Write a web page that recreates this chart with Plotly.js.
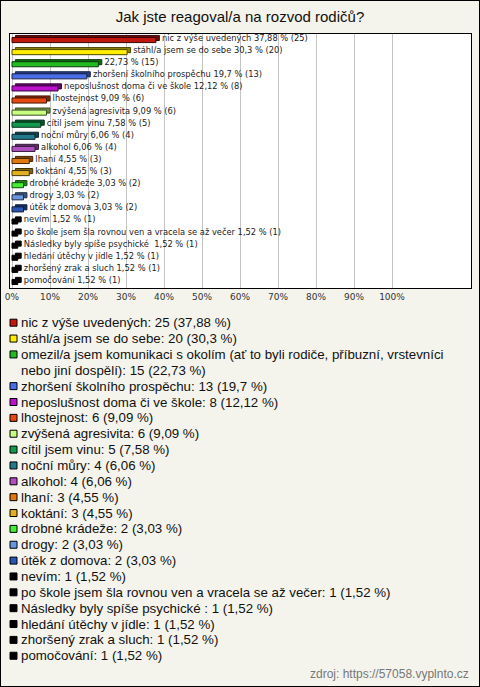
<!DOCTYPE html>
<html>
<head>
<meta charset="utf-8">
<script src="https://cdn.plot.ly/plotly-3.0.1.min.js"></script>
<style>
html,body{margin:0;padding:0;background:#f4f4ec;}
#wrap{position:relative;width:480px;height:687px;}
#chart{width:480px;height:687px;}
#frame{position:absolute;left:0;top:0;width:480px;height:687px;box-sizing:border-box;border:1px solid #000;pointer-events:none;}
</style>
</head>
<body>
<div id="wrap"><div id="chart"></div><div id="frame"></div></div>
<script>
// ---- data ----
const names = [
  "nic z výše uvedených",
  "stáhl/a jsem se do sebe",
  "omezil/a jsem komunikaci s okolím (ať to byli rodiče, příbuzní, vrstevníci nebo jiní dospělí)",
  "zhoršení školního prospěchu",
  "neposlušnost doma či ve škole",
  "lhostejnost",
  "zvýšená agresivita",
  "cítil jsem vinu",
  "noční můry",
  "alkohol",
  "lhaní",
  "koktání",
  "drobné krádeže",
  "drogy",
  "útěk z domova",
  "nevím",
  "po škole jsem šla rovnou ven a vracela se až večer",
  "Následky byly spíše psychické ",
  "hledání útěchy v jídle",
  "zhoršený zrak a sluch",
  "pomočování"
];
const counts = [25, 20, 15, 13, 8, 6, 6, 5, 4, 4, 3, 3, 2, 2, 2, 1, 1, 1, 1, 1, 1];
const percents = [37.88, 30.3, 22.73, 19.7, 12.12, 9.09, 9.09, 7.58, 6.06, 6.06, 4.55, 4.55, 3.03, 3.03, 3.03, 1.52, 1.52, 1.52, 1.52, 1.52, 1.52];
// bar labels inside the chart (long name omitted in the original)
const showNameOnBar = [true, true, false, true, true, true, true, true, true, true, true, true, true, true, true, true, true, true, true, true, true];
const colors = ["#c0180c", "#ffee00", "#22bb22", "#4a6ee8", "#bb11cc", "#e64a10", "#c8ff80", "#119a50", "#227a8a", "#b050c0", "#e07a10", "#e0b020", "#44ee33", "#6a96e0", "#2a55b0", "#000000", "#000000", "#000000", "#000000", "#000000", "#000000"];
const tickVals = [0, 10, 20, 30, 40, 50, 60, 70, 80, 90, 100];
const tickText = ["0%", "10%", "20%", "30%", "40%", "50%", "60%", "70%", "80%", "90%", "100%"];
const titleText = "Jak jste reagoval/a na rozvod rodičů?";
const sourceText = "zdroj: https://57058.vyplnto.cz";

// ---- helpers ----
const fmt = v => String(v).replace('.', ',');
const barText = names.map((n, i) => (showNameOnBar[i] ? n + ' ' : '') + fmt(percents[i]) + ' % (' + counts[i] + ')');
const legendText = names.map((n, i) => n + ': ' + counts[i] + ' (' + fmt(percents[i]) + ' %)');
function shade(hex, f) {
  const n = parseInt(hex.slice(1), 16);
  const r = Math.round(((n >> 16) & 255) * f), g = Math.round(((n >> 8) & 255) * f), b = Math.round((n & 255) * f);
  return 'rgb(' + r + ',' + g + ',' + b + ')';
}
const darkColors = colors.map(c => shade(c, 0.55));
const edgeColors = colors.map(c => shade(c, 0.3));

// layout geometry (pixels)
const W = 480, H = 687;
const L = 10, R = 471, T = 34, B = 288;
const pw = R - L, ph = B - T;
const px2x = x => (x - L) / pw;
const px2y = y => (B - y) / ph;

function wrap(s, maxLen) {
  const words = s.split(' ');
  const lines = [];
  let cur = '';
  words.forEach(w => {
    const cand = cur ? cur + ' ' + w : w;
    if (cand.length > maxLen && cur) { lines.push(cur); cur = w; } else { cur = cand; }
  });
  if (cur) lines.push(cur);
  return lines;
}

const annotations = [];
const shapes = [];
let yLine = 322.7;
const lineStep = 15.86;
legendText.forEach((t, i) => {
  const lines = wrap(t, 76);
  shapes.push({
    type: 'rect', xref: 'paper', yref: 'paper',
    x0: px2x(10), x1: px2x(17), y0: px2y(yLine + 3.5), y1: px2y(yLine - 3.5),
    fillcolor: colors[i], line: {color: '#000', width: 1}, layer: 'above'
  });
  lines.forEach(line => {
    annotations.push({
      xref: 'paper', yref: 'paper', x: px2x(19), y: px2y(yLine),
      xanchor: 'left', yanchor: 'middle', showarrow: false, align: 'left',
      text: line, font: {family: 'Liberation Sans, Arial, sans-serif', size: 13.3, color: '#111'}
    });
    yLine += lineStep;
  });
});
annotations.push({
  xref: 'paper', yref: 'paper', x: px2x(471), y: px2y(674),
  xanchor: 'right', yanchor: 'middle', showarrow: false,
  text: sourceText, font: {family: 'Liberation Sans, Arial, sans-serif', size: 12, color: '#777'}
});

// pseudo-3D depth: back face shifted right/up
const depthX = 0.9;      // in % units (~3.4 px)
const barW = 0.42;
const depthY = 0.17;     // in category units (~2 px)
const backTrace = {
  type: 'bar', orientation: 'h',
  y: names, x: percents, base: depthX,
  width: barW, offset: -barW / 2 - depthY,
  marker: {color: darkColors, line: {color: edgeColors, width: 1}},
  text: barText, texttemplate: '\u00a0%{text}',
  textposition: 'outside', cliponaxis: false, constraintext: 'none',
  outsidetextfont: {family: 'DejaVu Sans, Verdana, sans-serif', size: 8.3, color: '#222'},
  hoverinfo: 'none'
};
const frontTrace = {
  type: 'bar', orientation: 'h',
  y: names, x: percents,
  width: barW, offset: -barW / 2,
  marker: {color: colors, line: {color: edgeColors, width: 1}},
  textposition: 'none',
  hoverinfo: 'none'
};

const x0 = 0 - (12 - L) / 3.8, x1 = (R - 12) / 3.8;
const layout = {
  width: W, height: H,
  margin: {l: L, r: W - R, t: T, b: H - B, pad: 0},
  paper_bgcolor: '#f4f4ec', plot_bgcolor: '#ffffff',
  showlegend: false,
  barmode: 'overlay',
  title: {text: titleText, x: 0.5, xref: 'container', y: 1 - 17 / H, yref: 'container', yanchor: 'middle',
          font: {family: 'Liberation Sans, Arial, sans-serif', size: 15, color: '#111'}},
  xaxis: {range: [x0, x1], tickvals: tickVals, ticktext: tickText, showgrid: true, gridcolor: '#c4c4c4', gridwidth: 1,
          zeroline: false, showline: true, mirror: true, linecolor: '#000', linewidth: 1, ticks: '',
          tickfont: {family: 'DejaVu Sans, Verdana, sans-serif', size: 9, color: '#333'}, fixedrange: true},
  yaxis: {type: 'category', categoryorder: 'array', categoryarray: names, range: [names.length - 0.5, -0.5],
          showticklabels: false, showgrid: false, zeroline: false, showline: true, mirror: true,
          linecolor: '#000', linewidth: 1, ticks: '', fixedrange: true},
  annotations: annotations, shapes: shapes
};

Plotly.newPlot('chart', [backTrace, frontTrace], layout, {staticPlot: true, displayModeBar: false});
</script>
</body>
</html>
